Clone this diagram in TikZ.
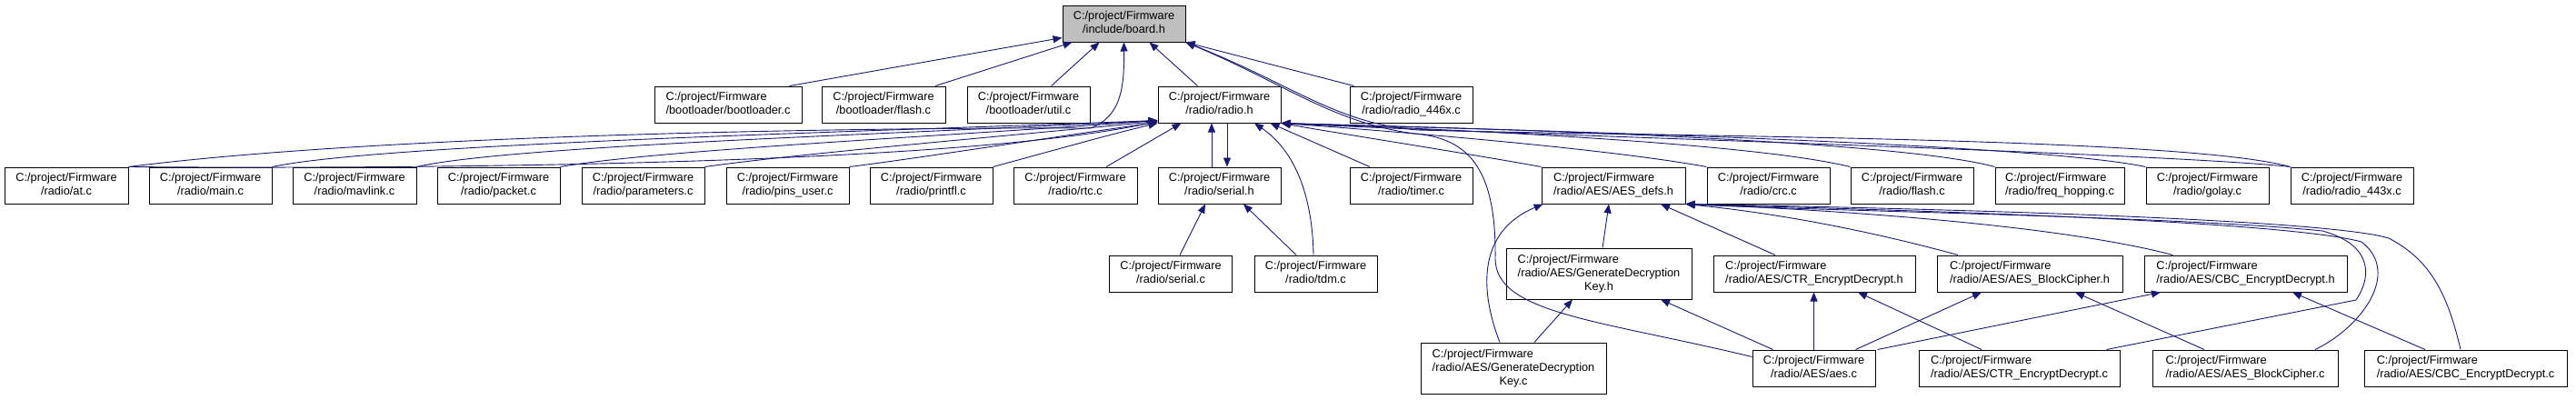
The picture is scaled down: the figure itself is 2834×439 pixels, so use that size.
\documentclass[tikz,border=0pt]{standalone}
\usepackage{fontspec}
\setmainfont{Liberation Sans}
\usetikzlibrary{arrows.meta,calc}
\definecolor{edgecol}{HTML}{191970}
\definecolor{rootfill}{HTML}{BFBFBF}
\newsavebox\labA
\newsavebox\labB
\newcommand\twol[2]{\sbox\labA{#1}\sbox\labB{#2}\ifdim\wd\labA<\wd\labB\begin{tabular}{@{}l@{}}#1\\#2\end{tabular}\else\begin{tabular}{@{}c@{}}#1\\#2\end{tabular}\fi}
\newcommand\threel[3]{\begin{tabular}{@{}l@{}}#1\\#2\\\multicolumn{1}{@{}c@{}}{#3}\end{tabular}}
\tikzset{
  nd/.style={draw=black, fill=white, line width=1pt, inner sep=0pt, minimum height=40pt, minimum width=135pt, font=\fontsize{12.75}{15}\selectfont},
  root/.style={nd, fill=rootfill},
  tall/.style={minimum height=56pt},
  edge/.style={draw=edgecol, line width=0.9pt, -{Triangle[length=10pt,width=8pt]}}
}
\begin{document}
\begin{tikzpicture}[x=1pt,y=-1pt]
\useasboundingbox (0,0) rectangle (2834,439);
% row 0
\node[root] (board) at (1236.5,26) {\twol{C:/project/Firmware}{/include/board.h}};
% row 1
\node[nd, minimum width=162pt] (bootl) at (801,115) {\twol{C:/project/Firmware}{/bootloader/bootloader.c}};
\node[nd, minimum width=136pt] (bflash) at (972,115) {\twol{C:/project/Firmware}{/bootloader/flash.c}};
\node[nd] (butil) at (1131.5,115) {\twol{C:/project/Firmware}{/bootloader/util.c}};
\node[nd] (radioh) at (1341.5,115) {\twol{C:/project/Firmware}{/radio/radio.h}};
\node[nd] (r446) at (1552.5,115) {\twol{C:/project/Firmware}{/radio/radio\_446x.c}};
% row 2
\node[nd, minimum width=136pt] (atc) at (73,204) {\twol{C:/project/Firmware}{/radio/at.c}};
\node[nd] (mainc) at (231.5,204) {\twol{C:/project/Firmware}{/radio/main.c}};
\node[nd, minimum width=136pt] (mavc) at (390,204) {\twol{C:/project/Firmware}{/radio/mavlink.c}};
\node[nd] (packc) at (548.5,204) {\twol{C:/project/Firmware}{/radio/packet.c}};
\node[nd] (paramc) at (707.5,204) {\twol{C:/project/Firmware}{/radio/parameters.c}};
\node[nd] (pinsc) at (866.5,204) {\twol{C:/project/Firmware}{/radio/pins\_user.c}};
\node[nd] (printc) at (1024.5,204) {\twol{C:/project/Firmware}{/radio/printfl.c}};
\node[nd, minimum width=136pt] (rtcc) at (1183,204) {\twol{C:/project/Firmware}{/radio/rtc.c}};
\node[nd] (serialh) at (1341.5,204) {\twol{C:/project/Firmware}{/radio/serial.h}};
\node[nd] (timerc) at (1552.5,204) {\twol{C:/project/Firmware}{/radio/timer.c}};
\node[nd, minimum width=158pt] (aesdefs) at (1775,204) {\twol{C:/project/Firmware}{/radio/AES/AES\_defs.h}};
\node[nd] (crcc) at (1945.5,204) {\twol{C:/project/Firmware}{/radio/crc.c}};
\node[nd] (rflash) at (2103.5,204) {\twol{C:/project/Firmware}{/radio/flash.c}};
\node[nd, minimum width=142pt] (freqc) at (2266,204) {\twol{C:/project/Firmware}{/radio/freq\_hopping.c}};
\node[nd] (golayc) at (2428.5,204) {\twol{C:/project/Firmware}{/radio/golay.c}};
\node[nd] (r443) at (2587.5,204) {\twol{C:/project/Firmware}{/radio/radio\_443x.c}};
% row 3
\node[nd] (serialc) at (1288,301) {\twol{C:/project/Firmware}{/radio/serial.c}};
\node[nd] (tdmc) at (1447.5,301) {\twol{C:/project/Firmware}{/radio/tdm.c}};
\node[nd, tall, minimum width=204pt] (genh) at (1759,301) {\threel{C:/project/Firmware}{/radio/AES/GenerateDecryption}{Key.h}};
\node[nd, minimum width=222pt] (ctrh) at (1996,301) {\twol{C:/project/Firmware}{/radio/AES/CTR\_EncryptDecrypt.h}};
\node[nd, minimum width=204pt] (bch) at (2233,301) {\twol{C:/project/Firmware}{/radio/AES/AES\_BlockCipher.h}};
\node[nd, minimum width=223pt] (cbch) at (2470.5,301) {\twol{C:/project/Firmware}{/radio/AES/CBC\_EncryptDecrypt.h}};
% row 4
\node[nd, tall, minimum width=204pt] (genc) at (1665,405) {\threel{C:/project/Firmware}{/radio/AES/GenerateDecryption}{Key.c}};
\node[nd] (aesc) at (1995.5,405) {\twol{C:/project/Firmware}{/radio/AES/aes.c}};
\node[nd, minimum width=221pt] (ctrc) at (2221.5,405) {\twol{C:/project/Firmware}{/radio/AES/CTR\_EncryptDecrypt.c}};
\node[nd, minimum width=204pt] (bcc) at (2470,405) {\twol{C:/project/Firmware}{/radio/AES/AES\_BlockCipher.c}};
\node[nd, minimum width=223pt] (cbcc) at (2712.5,405) {\twol{C:/project/Firmware}{/radio/AES/CBC\_EncryptDecrypt.c}};

% ---- edges to board.h
\draw[edge] ($(bootl.north east)+(-14,0)$) -- ($(board.south west)+(0,-5)$);
\draw[edge] ($(bflash.north)+(57,0)$) -- ($(board.south west)+(11,0)$);
\draw[edge] ($(butil.north)+(25,0)$) -- ($(board.south west)+(41,0)$);
\draw[edge] (atc.north east) .. controls (420,148) and (950,140) .. (1200,141) .. controls (1232,128) and (1237,100) .. (board.south);
\draw[edge] ($(radioh.north)+(-24,0)$) -- ($(board.south)+(28,0)$);
\draw[edge] ($(r446.north west)+(5,0)$) -- (board.south east);
\draw[edge] (r443.north west) .. controls (2400,150) and (1800,150) .. (1560,143) .. controls (1470,136) and (1420,92) .. (board.south east);
\draw[edge] ($(aesc.north west)+(0,8)$) .. controls (1760,352) and (1646,345) .. (1645,285) .. controls (1646,200) and (1625,156) .. (1565,148) .. controls (1470,138) and (1418,94) .. (board.south east);

% ---- edges to radio.h (left fan)
\draw[edge] (atc.north east) .. controls (450,186) and (1050,182) .. ($(radioh.south west)+(0,-2)$);
\draw[edge] (mainc.north east) .. controls (420,158) and (950,145) .. ($(radioh.south west)+(0,-3)$);
\draw[edge] (mavc.north east) .. controls (560,160) and (1000,147) .. ($(radioh.south west)+(0,-3)$);
\draw[edge] (packc.north east) .. controls (720,165) and (1040,150) .. ($(radioh.south west)+(0,-3)$);
\draw[edge] (paramc.north east) .. controls (870,170) and (1080,152) .. ($(radioh.south west)+(0,-2)$);
\draw[edge] (pinsc.north east) .. controls (1010,174) and (1130,155) .. ($(radioh.south west)+(0,-1)$);
\draw[edge] (printc.north east) .. controls (1150,168) and (1220,148) .. (radioh.south west);
\draw[edge] ($(rtcc.north)+(34,0)$) -- ($(radioh.south west)+(26,0)$);
\draw[edge] ($(serialh.north)+(-8.5,0)$) -- ($(radioh.south)+(-8.5,0)$);
\draw[edge] ($(radioh.south)+(8.5,0)$) -- ($(serialh.north)+(8.5,0)$);
\draw[edge] ($(tdmc.north)+(-2.5,0)$) .. controls (1444,222) and (1428,168) .. ($(radioh.south)+(38.5,0)$);
\draw[edge] ($(timerc.north)+(-45.5,0)$) -- ($(radioh.south east)+(-12,0)$);
% ---- edges to radio.h (right fan)
\draw[edge] (aesdefs.north west) .. controls (1610,168) and (1480,148) .. (radioh.south east);
\draw[edge] (crcc.north west) .. controls (1760,162) and (1500,142) .. (radioh.south east);
\draw[edge] (rflash.north west) .. controls (1920,155) and (1540,140) .. (radioh.south east);
\draw[edge] (freqc.north west) .. controls (2080,152) and (1580,140) .. (radioh.south east);
\draw[edge] (golayc.north west) .. controls (2230,156) and (1620,142) .. (radioh.south east);
\draw[edge] (r443.north west) .. controls (2380,168) and (1650,148) .. (radioh.south east);

% ---- serial.h
\draw[edge] ($(serialc.north)+(10,0)$) -- ($(serialh.south)+(-15.5,0)$);
\draw[edge] ($(tdmc.north)+(-21.5,0)$) -- ($(serialh.south)+(26.5,0)$);

% ---- AES_defs.h
\draw[edge] ($(genh.north)+(4,0)$) -- ($(aesdefs.south)+(-5,0)$);
\draw[edge] ($(ctrh.north)+(-43,0)$) -- ($(aesdefs.south)+(52,0)$);
\draw[edge] ($(genc.north)+(-15,0)$) .. controls (1628,320) and (1625,255) .. ($(aesdefs.south west)+(2,0)$);
\draw[edge] ($(bch.north)+(-79,0)$) .. controls (2050,252) and (1950,234) .. (aesdefs.south east);
\draw[edge] ($(cbch.north)+(-80,0)$) .. controls (2260,246) and (2000,230) .. (aesdefs.south east);
\draw[edge] ($(ctrc.north east)+(-15,0)$) -- (2592,330) .. controls (2612,300) and (2606,268) .. (2555,254) .. controls (2400,238) and (2000,232) .. (aesdefs.south east);
\draw[edge] ($(bcc.north)+(77,0)$) .. controls (2598,360) and (2642,300) .. (2598,266) .. controls (2500,240) and (2000,229) .. (aesdefs.south east);
\draw[edge] ($(cbcc.north)+(-5.5,0)$) .. controls (2692,320) and (2672,285) .. (2628,262) .. controls (2550,238) and (2000,227) .. (aesdefs.south east);

% ---- GenerateDecryptionKey.h
\draw[edge] ($(genc.north)+(23,0)$) -- ($(genh.south)+(-29,0)$);
\draw[edge] ($(aesc.north)+(-45,0)$) -- ($(genh.south)+(68,0)$);

% ---- aes.c and AES headers
\draw[edge] (aesc.north) -- (aesc.north |- ctrh.south);
\draw[edge] ($(aesc.north)+(46,0)$) -- ($(bch.south)+(-53,0)$);
\draw[edge] ($(aesc.north east)+(2,0)$) -- ($(cbch.south)+(-93.5,0)$);
\draw[edge] ($(ctrc.north)+(-41.5,0)$) -- ($(ctrh.south)+(48,0)$);
\draw[edge] ($(bcc.north)+(-45,0)$) -- ($(bch.south)+(50,0)$);
\draw[edge] ($(cbcc.north)+(-44.5,0)$) -- ($(cbch.south)+(51.5,0)$);
\end{tikzpicture}
\end{document}
